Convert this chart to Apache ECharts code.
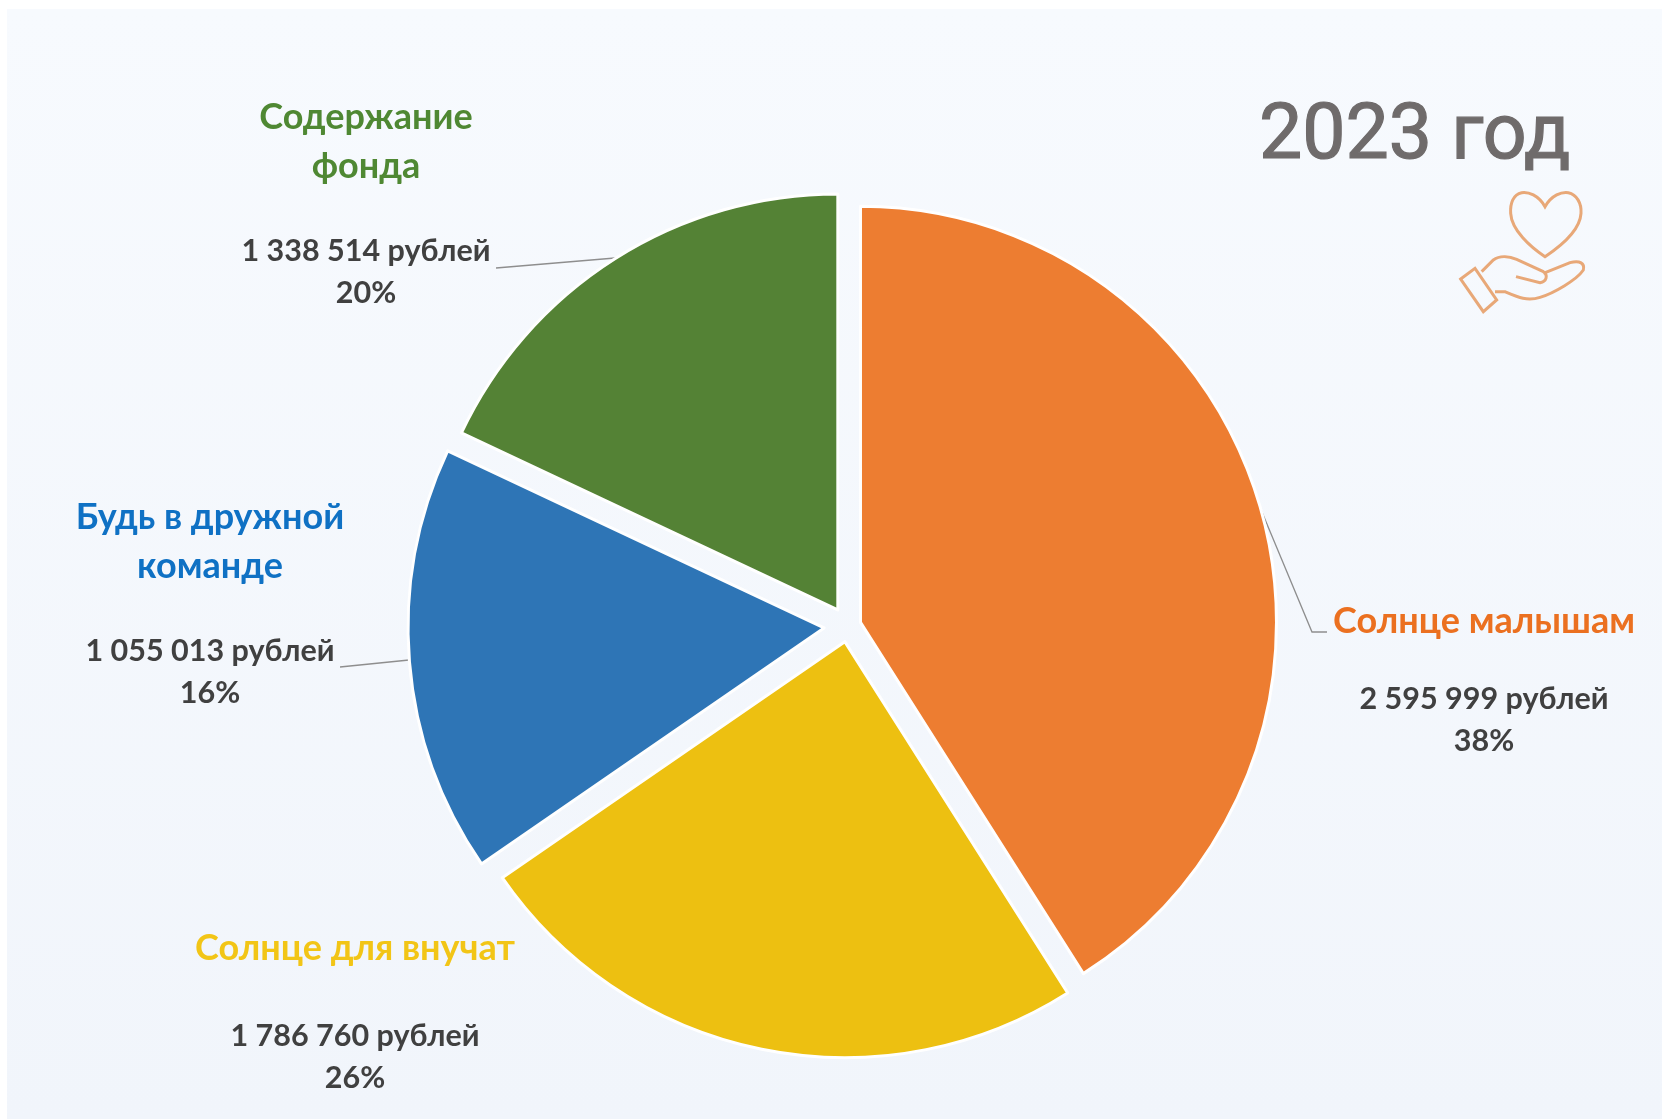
<!DOCTYPE html>
<html><head><meta charset="utf-8">
<style>html,body{margin:0;padding:0;background:#fff}#c{width:1662px;height:1119px}</style>
<script src="https://cdn.jsdelivr.net/npm/echarts@6/dist/echarts.min.js"></script>
</head><body><div id="c"></div>
<script>
const categories = ['Солнце малышам','Солнце для внучат','Будь в дружной\nкоманде','Содержание\nфонда'];
const amountLabels = ['2 595 999 рублей','1 786 760 рублей','1 055 013 рублей','1 338 514 рублей'];
const percentLabels = ['38%','26%','16%','20%'];
// slice sizes as they are drawn in the picture (they differ slightly from the printed percentages)
const drawnShares = [41.0, 24.4, 16.6, 18.0];
const explodeOffsets = [13, 16, 24, 19];
const sliceColors = ['#ED7D31','#EDC011','#2E75B6','#548235'];
const titleColors = ['#EB7020','#F2C516','#0F71C4','#4F8833'];
const FONT = 'Lato, "Open Sans", sans-serif';
const PIE_CENTER = [848, 626];
const PIE_RADIUS = 416;
const labelAnchors = [[1484,597],[355,924],[210,493],[366,93]];
const gapHeights = [32,42,39,39];
const linePoints = [
  [[1259,505],[1312,632],[1327,632]],
  null,
  [[409,660],[340,667],[340,667]],
  [[615,258],[496,268],[496,268]]
];
echarts.graphic.registerShape('iconHeart', echarts.graphic.extendPath('M1035 440C1015 405 985 395 965 398C940 403 930 430 932 460C935 510 990 560 1035 590C1080 560 1140 510 1143 460C1145 430 1130 403 1105 398C1085 395 1055 405 1035 440Z'));
echarts.graphic.registerShape('iconHand', echarts.graphic.extendPath('M782 657L825 625L890 720L850 755Z M845 635L880 600C900 585 930 590 950 598L1030 635C1045 645 1040 665 1020 668L948 650 M1030 640L1110 608C1140 600 1155 610 1150 630C1130 660 1060 700 1020 712C980 725 950 710 915 695L885 695'));

const total = drawnShares.reduce((a,b)=>a+b,0);
let cumulative = 0;
const series = categories.map((c,i)=>{
  const start = cumulative;
  cumulative += drawnShares[i];
  const mid = (start + drawnShares[i]/2)/total*2*Math.PI;
  return {
    type:'pie',
    center:[PIE_CENTER[0]+Math.sin(mid)*explodeOffsets[i], PIE_CENTER[1]-Math.cos(mid)*explodeOffsets[i]],
    radius:[0,PIE_RADIUS],
    startAngle:90-start/total*360,
    clockwise:true,
    silent:true,
    avoidLabelOverlap:false,
    emphasis:{disabled:true},
    labelLine:{show:true,lineStyle:{color:'#8E8E8E',width:1.3}},
    labelLayout:function(p){
      if(p.dataIndex!==0) return {};
      const a=labelAnchors[i];
      const r={x:a[0],y:a[1],align:'center',verticalAlign:'top',hideOverlap:false,moveOverlap:false};
      if(linePoints[i]) r.labelLinePoints=linePoints[i];
      return r;
    },
    data:[
      {name:c,value:drawnShares[i],
       itemStyle:{color:sliceColors[i],borderColor:'#fff',borderWidth:3},
       labelLine:{show:!!linePoints[i]},
       label:{
         show:true,position:'outside',
         formatter:c.split('\n').map(t=>'{t|'+t+'}').join('\n')+'\n{g| }\n{v|'+amountLabels[i]+'}\n{v|'+percentLabels[i]+'}',
         rich:{
           t:{fontFamily:FONT,fontWeight:700,fontSize:36,lineHeight:49,color:titleColors[i],align:'center'},
           g:{fontSize:1,lineHeight:gapHeights[i],height:gapHeights[i]},
           v:{fontFamily:FONT,fontWeight:700,fontSize:30.5,lineHeight:42,color:'#404040',align:'center'}
         }
       }},
      {name:'',value:total-drawnShares[i],
       itemStyle:{color:'rgba(0,0,0,0)',borderWidth:0},
       label:{show:false},labelLine:{show:false}}
    ]
  };
});

const chart = echarts.init(document.getElementById('c'),null,{renderer:'canvas'});
chart.setOption({
  animation:false,
  backgroundColor:'#fff',
  graphic:[
    {type:'rect',z:-10,silent:true,shape:{x:7,y:9,width:1655,height:1110},
     style:{fill:new echarts.graphic.LinearGradient(0,0,0,1,[{offset:0,color:'#F7FAFE'},{offset:1,color:'#F1F5FB'}])}},
    {type:'text',x:1259,y:100,style:{text:'2023 год',font:'400 77px Roboto',fill:'#6F6B6B',stroke:'#6F6B6B',lineWidth:1.2}},
    {type:'group',x:1200,y:60,scaleX:1/3,scaleY:1/3,silent:true,children:[
      {type:'iconHeart',style:{fill:'none',stroke:'#E8A878',lineWidth:9}},
      {type:'iconHand',style:{fill:'none',stroke:'#E8A878',lineWidth:9}}
    ]}
  ],
  series:series
});
</script></body></html>
